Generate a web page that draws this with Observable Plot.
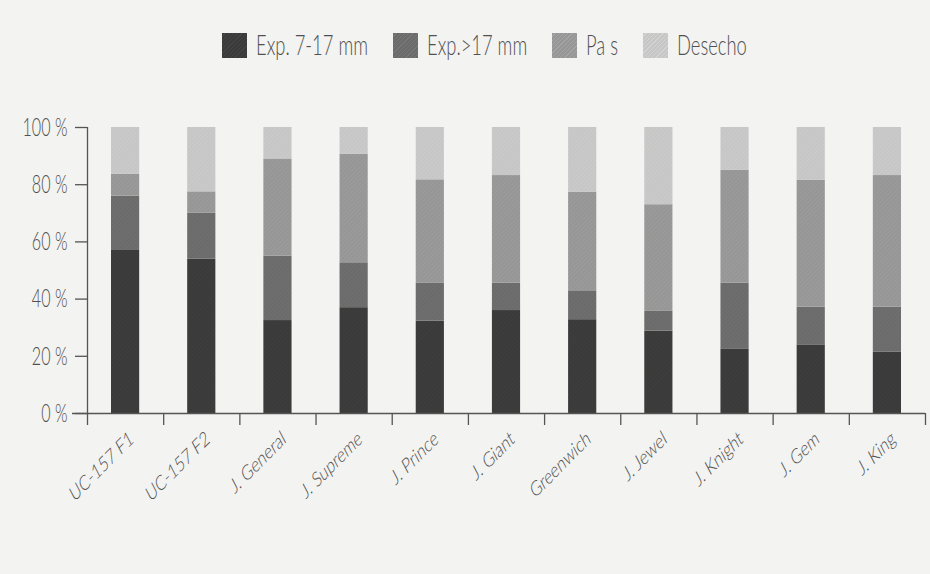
<!DOCTYPE html>
<html><head><meta charset="utf-8">
<script src="https://cdn.jsdelivr.net/npm/d3@7"></script>
<script src="https://cdn.jsdelivr.net/npm/@observablehq/plot@0.6"></script>
<style>
html,body{margin:0;padding:0;background:#f3f3f1;}
#wrap{position:relative;width:930px;height:574px;overflow:hidden;font-family:Lato,"Open Sans",sans-serif;color:#505050;}
#chart{position:absolute;left:0;top:0;}
#legend{position:absolute;left:0;top:0;width:930px;height:80px;z-index:2;}
.sw{position:absolute;top:33px;width:25px;height:25px;}
.lt{position:absolute;top:30px;font-size:27px;font-weight:300;line-height:30px;white-space:nowrap;transform-origin:0 50%;}
</style></head>
<body>
<div id="wrap"><div id="legend"></div><div id="chart"></div></div>
<script>
const categories = ["UC-157 F1","UC-157 F2","J. General","J. Supreme","J. Prince","J. Giant","Greenwich","J. Jewel","J. Knight","J. Gem","J. King"];
const series = ["Exp. 7-17 mm","Exp.>17 mm","Pa s","Desecho"];
const exp717 = [57, 54, 32.5, 37, 32.3, 36, 32.8, 28.8, 22.6, 24, 21.4];
const expGt17 = [19, 16, 22.5, 15.7, 13.2, 9.6, 10.1, 6.9, 23, 13.2, 15.8];
const pais = [7.6, 7.5, 34, 37.9, 36.2, 37.6, 34.5, 37.3, 39.4, 44.3, 46];
const desecho = [16.4, 22.5, 11, 9.4, 18.3, 16.8, 22.6, 27, 15, 18.5, 16.8];
const yTicks = [0, 20, 40, 60, 80, 100];

const colors = ["#3a3a3a","#6b6b6b","#969696","#c6c6c6"];
const hatch  = ["#444444","#777777","#a4a4a4","#d3d3d3"];

const values = [exp717, expGt17, pais, desecho];
const data = [];
categories.forEach((c, i) => series.forEach((s, k) => data.push({i, category: c, series: s, value: values[k][i]})));

const xs = d3.range(categories.length + 1);

const plot = Plot.plot({
  width: 930, height: 574,
  marginLeft: 87, marginRight: 5, marginTop: 127, marginBottom: 161,
  style: {background: "transparent", fontFamily: "Lato, 'Open Sans', sans-serif", color: "#505050"},
  x: {domain: [0, categories.length]},
  y: {domain: [0, 100]},
  color: {domain: series, range: series.map((_, k) => `url(#hatch${k})`)},
  marks: [
    Plot.rectY(data, {x1: "i", x2: d => d.i + 1, y: "value", fill: "series", insetLeft: 24, insetRight: 24}),
    Plot.ruleX([0], {stroke: "#555", strokeWidth: 1.3}),
    Plot.ruleY([0], {stroke: "#555", strokeWidth: 1.3, insetLeft: -15}),
    Plot.axisX({ticks: xs, tickSize: 12, tickFormat: () => "", label: null, stroke: "#555", strokeWidth: 1.3}),
    Plot.axisY({ticks: yTicks, tickSize: 12, tickPadding: 8, tickFormat: d => d + " %", label: null, fontSize: 26, fontWeight: 300, fill: "#505050", stroke: "#555", strokeWidth: 1.3}),
    Plot.text(categories, {x: (d, i) => i + 0.5, frameAnchor: "bottom", text: d => d, textAnchor: "end", fontSize: 21, fontWeight: 300, fill: "#505050"})
  ]
});
document.getElementById("chart").appendChild(plot);

// hatch patterns
const defs = d3.select(plot).insert("defs", ":first-child");
colors.forEach((c, k) => {
  const p = defs.append("pattern").attr("id", `hatch${k}`).attr("patternUnits", "userSpaceOnUse")
    .attr("width", 3).attr("height", 3).attr("patternTransform", "rotate(45)");
  p.append("rect").attr("width", 3).attr("height", 3).attr("fill", c);
  p.append("line").attr("x1", 0).attr("y1", 0).attr("x2", 0).attr("y2", 3).attr("stroke", hatch[k]).attr("stroke-width", 0.8);
});

// narrow the lettering like the scanned original
function num(v) { const n = parseFloat(v); return (v != null && /^-?[\d.]+(px)?$/.test(String(v).trim())) ? n : null; }
function squeeze(sel, extra) {
  plot.querySelectorAll(sel).forEach(t => {
    let tx = 0, ty = 0;
    const T = t.getAttribute("transform") || "";
    const m = T.match(/translate\(\s*([-\d.e]+)[ ,]*([-\d.e]+)?\s*\)/);
    if (m) { tx += +m[1]; ty += +(m[2] || 0); }
    const rest = T.replace(/translate\([^)]*\)/, "").trim();
    const xa = num(t.getAttribute("x")), ya = num(t.getAttribute("y"));
    if (xa != null) { tx += xa; t.removeAttribute("x"); }
    if (ya != null) { ty += ya; t.removeAttribute("y"); }
    t.setAttribute("transform", `translate(${tx},${ty}) ${extra} ${rest}`);
  });
}
squeeze('g[aria-label="y-axis tick label"] text', "scale(0.62,1)");
squeeze('g[aria-label="text"] text', "translate(9,28) scale(0.72,1) rotate(-36)");

// legend
const legend = document.getElementById("legend");
let left = 222;
series.forEach((s, k) => {
  const sw = document.createElement("div");
  sw.className = "sw";
  sw.style.left = left + "px";
  sw.style.background = `repeating-linear-gradient(135deg, ${colors[k]} 0 2px, ${hatch[k]} 2px 3px)`;
  legend.appendChild(sw);
  const lt = document.createElement("div");
  lt.className = "lt";
  lt.textContent = s;
  lt.style.left = (left + 34) + "px";
  lt.style.transform = "scaleX(0.68)";
  legend.appendChild(lt);
  left += 34 + lt.getBoundingClientRect().width + 25;
});
</script>
</body></html>
